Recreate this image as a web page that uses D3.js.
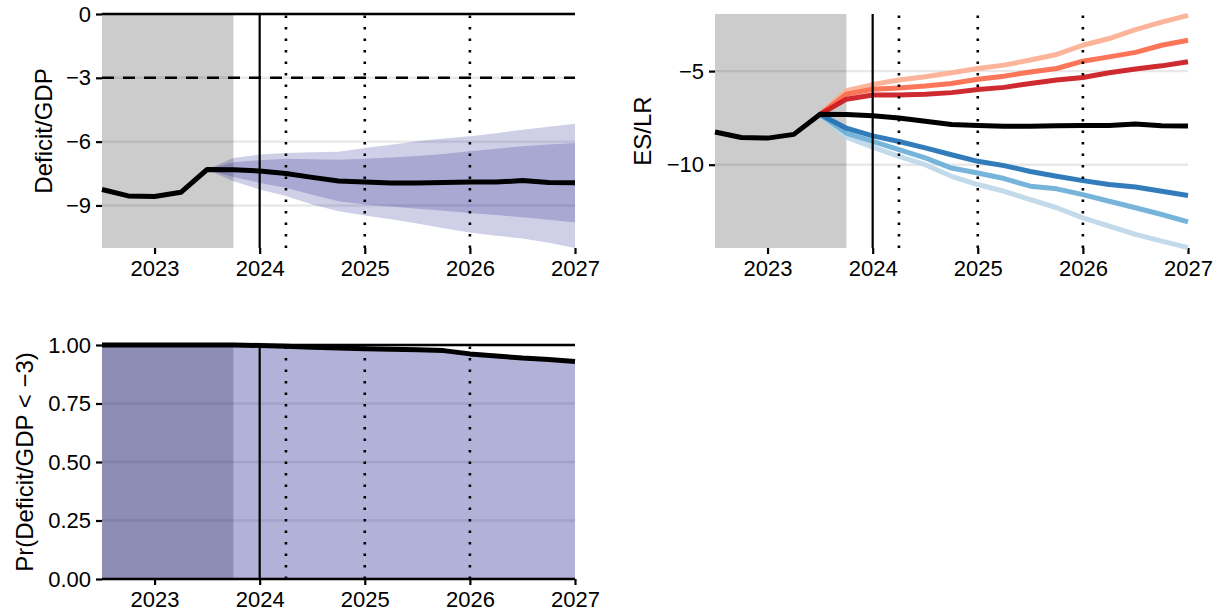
<!DOCTYPE html>
<html>
<head>
    <meta charset="utf-8">
    <title>Deficit projections</title>
    <script src="https://d3js.org/d3.v7.min.js"></script>
    <style>
        body { margin: 0; background: #fff; }
        text { font-family: "Liberation Sans", Arial, sans-serif; }
    </style>
</head>
<body>
    <svg width="1220" height="613" id="mainSvg"></svg>
    <script>
        // quarterly observation dates
        const quarters = [2022.5, 2022.75, 2023, 2023.25, 2023.5, 2023.75, 2024, 2024.25, 2024.5, 2024.75,
                          2025, 2025.25, 2025.5, 2025.75, 2026, 2026.25, 2026.5, 2026.75, 2027];
        // forecast dates (from the jump-off point)
        const fcQuarters = [2023.5, 2023.75, 2024, 2024.25, 2024.5, 2024.75, 2025, 2025.25, 2025.5, 2025.75,
                            2026, 2026.25, 2026.5, 2026.75, 2027];

        const deficit = [-8.25, -8.55, -8.58, -8.38, -7.31, -7.32, -7.38, -7.5, -7.68, -7.85,
                         -7.9, -7.95, -7.94, -7.92, -7.9, -7.9, -7.83, -7.92, -7.93];

        const outerHi = [-7.31, -6.77, -6.61, -6.53, -6.5, -6.47, -6.3, -6.15, -5.98, -5.85, -5.75, -5.6, -5.44, -5.3, -5.16];
        const innerHi = [-7.31, -6.97, -6.88, -6.81, -6.83, -6.85, -6.81, -6.75, -6.68, -6.58, -6.45, -6.33, -6.22, -6.13, -6.06];
        const innerLo = [-7.31, -7.66, -7.94, -8.17, -8.5, -8.8, -8.95, -9.05, -9.15, -9.25, -9.35, -9.45, -9.55, -9.67, -9.8];
        const outerLo = [-7.31, -7.86, -8.25, -8.56, -8.95, -9.27, -9.47, -9.65, -9.85, -10.07, -10.27, -10.42, -10.55, -10.75, -11.0];

        // scenario paths for ES/LR
        const redLight = [-7.31, -6.05, -5.72, -5.48, -5.3, -5.09, -4.86, -4.68, -4.41, -4.11, -3.62, -3.26, -2.78, -2.38, -2.02];
        const redMid   = [-7.31, -6.24, -5.97, -5.9, -5.8, -5.66, -5.44, -5.27, -5.05, -4.86, -4.47, -4.24, -4.0, -3.62, -3.35];
        const redDark  = [-7.31, -6.5, -6.28, -6.28, -6.24, -6.15, -5.98, -5.87, -5.66, -5.48, -5.34, -5.09, -4.89, -4.72, -4.5];
        const blueDark  = [-7.31, -8.05, -8.46, -8.76, -9.1, -9.47, -9.82, -10.05, -10.36, -10.62, -10.85, -11.06, -11.19, -11.42, -11.65];
        const blueMid   = [-7.31, -8.31, -8.76, -9.2, -9.64, -10.18, -10.44, -10.74, -11.15, -11.29, -11.6, -11.95, -12.3, -12.66, -13.05];
        const blueLight = [-7.31, -8.53, -9.06, -9.56, -10.0, -10.62, -11.06, -11.42, -11.86, -12.3, -12.84, -13.28, -13.72, -14.08, -14.43];

        const probBelow = [1, 1, 1, 1, 1, 1, 0.998, 0.995, 0.99, 0.987, 0.984, 0.982, 0.98, 0.976, 0.962, 0.953, 0.944, 0.938, 0.929];

        const yearTicks = [2023, 2024, 2025, 2026, 2027];
        const defTicks = [0, -3, -6, -9];
        const esTicks = [-5, -10];
        const probTicks = [0, 0.25, 0.5, 0.75, 1];
        const shadeRange = [2022.5, 2023.75];
        const solidVline = 2024;
        const dottedVlines = [2024.25, 2025, 2026];

        const svg = d3.select("#mainSvg");
        const navy = "#000080";
        const pw = 473, ph = 234;

        function panel(left, top, yDomain, yTicks, yFormat, title, titleX) {
            const g = svg.append("g").attr("transform", `translate(${left},${top})`);
            const x = d3.scaleLinear().domain([2022.5, 2027]).range([0, pw]);
            const y = d3.scaleLinear().domain(yDomain).range([ph, 0]);

            g.selectAll(".grid").data(yTicks).join("line")
                .attr("x1", 0).attr("x2", pw)
                .attr("y1", d => y(d)).attr("y2", d => y(d))
                .attr("stroke", "#e8e8e8").attr("stroke-width", 2.4);

            g.append("rect")
                .attr("x", x(shadeRange[0])).attr("width", x(shadeRange[1]) - x(shadeRange[0]))
                .attr("y", 0).attr("height", ph)
                .attr("fill", "black").attr("fill-opacity", 0.2);

            const ya = g.append("g").call(d3.axisLeft(y).tickValues(yTicks).tickFormat(yFormat).tickSize(6).tickPadding(5));
            ya.select(".domain").remove();
            ya.selectAll("line").attr("stroke-width", 2.2);
            ya.selectAll("text").attr("font-size", 22).attr("fill", "black");

            const xa = g.append("g").attr("transform", `translate(0,${ph})`)
                .call(d3.axisBottom(x).tickValues(yearTicks).tickFormat(d3.format("d")).tickSize(6).tickPadding(6));
            xa.select(".domain").remove();
            xa.selectAll("line").attr("stroke-width", 2.2);
            xa.selectAll("text").attr("font-size", 22).attr("fill", "black");

            g.append("text")
                .attr("transform", `translate(${titleX - left},${ph / 2}) rotate(-90)`)
                .attr("text-anchor", "middle").attr("dominant-baseline", "central")
                .attr("font-size", 24).text(title);

            const marks = g.append("g");
            const refs = g.append("g");
            return { g, x, y, marks, refs };
        }

        function vlines(p) {
            p.refs.append("line")
                .attr("x1", p.x(solidVline)).attr("x2", p.x(solidVline))
                .attr("y1", 0).attr("y2", ph)
                .attr("stroke", "black").attr("stroke-width", 2.2);
            p.refs.selectAll(".dot").data(dottedVlines).join("line")
                .attr("x1", d => p.x(d)).attr("x2", d => p.x(d))
                .attr("y1", ph).attr("y2", 0)
                .attr("stroke", "black").attr("stroke-width", 2.6)
                .attr("stroke-dasharray", "2.6,8.9");
        }

        // ---- Panel A: Deficit/GDP with fan ----
        const A = panel(102, 14, [-11, 0], defTicks, d3.format("d"), "Deficit/GDP", 43);
        const band = (lo, hi) => d3.area()
            .x((d, i) => A.x(fcQuarters[i]))
            .y0((d, i) => A.y(lo[i]))
            .y1((d, i) => A.y(hi[i]));
        A.marks.append("path").attr("d", band(outerLo, outerHi)(fcQuarters))
            .attr("fill", navy).attr("fill-opacity", 0.19);
        A.marks.append("path").attr("d", band(innerLo, innerHi)(fcQuarters))
            .attr("fill", navy).attr("fill-opacity", 0.19);
        vlines(A);
        A.refs.append("line").attr("x1", 0).attr("x2", pw)
            .attr("y1", A.y(0)).attr("y2", A.y(0))
            .attr("stroke", "black").attr("stroke-width", 2.4);
        A.refs.append("line").attr("x1", 0).attr("x2", pw)
            .attr("y1", A.y(-3)).attr("y2", A.y(-3))
            .attr("stroke", "black").attr("stroke-width", 2.4)
            .attr("stroke-dasharray", "12,9");
        A.refs.append("path")
            .attr("d", d3.line().x((d, i) => A.x(quarters[i])).y(d => A.y(d))(deficit))
            .attr("fill", "none").attr("stroke", "black").attr("stroke-width", 5)
            .attr("stroke-linejoin", "round");

        // ---- Panel B: ES/LR scenarios ----
        const B = panel(715, 14, [-14.45, -1.95], esTicks, d3.format("d"), "ES/LR", 642);
        const scen = [
            [redLight, "#fcae91"], [redMid, "#fb6a4a"], [redDark, "#cb181d"],
            [blueLight, "#bdd7e7"], [blueMid, "#6baed6"], [blueDark, "#2171b5"]
        ];
        const scLine = d3.line().x((d, i) => B.x(fcQuarters[i])).y(d => B.y(d));
        B.marks.selectAll(".scen").data(scen).join("path")
            .attr("d", d => scLine(d[0]))
            .attr("fill", "none").attr("stroke", d => d[1])
            .attr("stroke-width", 5).attr("stroke-opacity", 0.92)
            .attr("stroke-linejoin", "round");
        vlines(B);
        B.refs.append("path")
            .attr("d", d3.line().x((d, i) => B.x(quarters[i])).y(d => B.y(d))(deficit))
            .attr("fill", "none").attr("stroke", "black").attr("stroke-width", 5)
            .attr("stroke-linejoin", "round");

        // ---- Panel C: probability below -3 ----
        const C = panel(102, 345, [0, 1], probTicks, d3.format(".2f"), "Pr(Deficit/GDP < \u22123)", 24);
        C.marks.append("path")
            .attr("d", d3.area().x((d, i) => C.x(quarters[i])).y0(C.y(0)).y1(d => C.y(d))(probBelow))
            .attr("fill", navy).attr("fill-opacity", 0.3);
        vlines(C);
        [0, 1].forEach(v => C.refs.append("line").attr("x1", 0).attr("x2", pw)
            .attr("y1", C.y(v)).attr("y2", C.y(v))
            .attr("stroke", "black").attr("stroke-width", 2.4));
        C.refs.append("path")
            .attr("d", d3.line().x((d, i) => C.x(quarters[i])).y(d => C.y(d))(probBelow))
            .attr("fill", "none").attr("stroke", "black").attr("stroke-width", 5)
            .attr("stroke-linejoin", "round");
    </script>
</body>
</html>
